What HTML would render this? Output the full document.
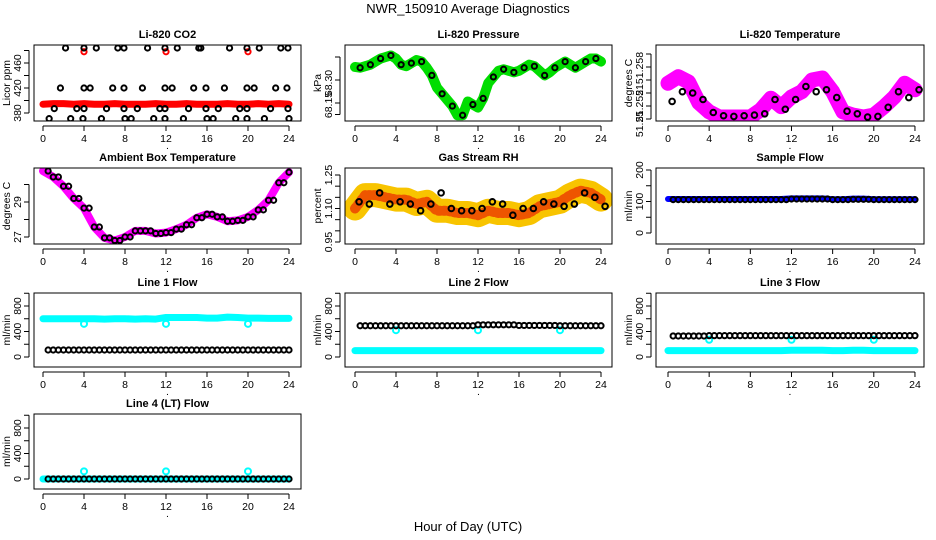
<!DOCTYPE html>
<html><head><meta charset="utf-8"><style>
html,body{margin:0;padding:0;background:#fff;}
svg{display:block;font-family:"Liberation Sans",Arial,sans-serif;}
.t{font-size:11px;font-weight:bold;}
.k{font-size:10.5px;}
</style></head><body>
<svg id="c" width="936" height="540" viewBox="0 0 936 540">
<text x="468" y="13" text-anchor="middle" font-size="13">NWR_150910  Average Diagnostics</text>
<text x="468" y="531" text-anchor="middle" font-size="13">Hour of Day (UTC)</text>
</svg>
<script>
// ---- data ----
const hours = [0,1,2,3,4,5,6,7,8,9,10,11,12,13,14,15,16,17,18,19,20,21,22,23,24];
const halfHours = [0,0.5,1,1.5,2,2.5,3,3.5,4,4.5,5,5.5,6,6.5,7,7.5,8,8.5,9,9.5,10,10.5,11,11.5,12,12.5,13,13.5,14,14.5,15,15.5,16,16.5,17,17.5,18,18.5,19,19.5,20,20.5,21,21.5,22,22.5,23,23.5,24];
const xTicks = [0,4,8,12,16,20,24];
// CO2
const co2Red = [394,395,395,394,395,394,394,395,394,394,394,395,394,394,395,394,394,394,395,394,394,395,394,395,394];
const co2RedOutHours = [4,12,20];
const co2RedOutVals = [478,478,478];
const co2BlackHours = [2.2,4.0,5.2,7.3,7.9,10.2,11.9,13.1,15.2,15.4,18.2,19.9,21.1,23.2,23.9,
 1.7,4.0,4.6,6.8,7.9,9.7,11.9,12.6,14.7,15.9,17.7,19.9,20.6,22.7,23.8,
 1.1,3.3,4.0,6.2,7.9,9.2,11.4,11.9,14.2,15.9,17.1,19.2,19.9,22.2,23.9,
 0.6,2.7,3.9,5.7,8.0,8.6,10.8,11.9,13.7,16.0,16.6,18.8,19.9,21.6,24.0];
const co2BlackVals = [484,484,484,484,484,484,484,484,484,484,484,484,484,484,484,
 420,420,420,420,420,420,420,420,420,420,420,420,420,420,420,
 387,387,387,387,387,387,387,387,387,387,387,387,387,387,387,
 371,371,371,371,371,371,371,371,371,371,371,371,371,371,371];
// Pressure (half-hourly)
const pressure = [68.385,68.38,68.39,68.40,68.42,68.44,68.45,68.46,68.44,68.40,68.39,68.41,68.43,68.42,68.38,68.33,68.25,68.21,68.17,68.13,68.07,68.07,68.16,68.14,68.12,68.18,68.28,68.32,68.36,68.37,68.36,68.35,68.36,68.38,68.40,68.39,68.36,68.33,68.35,68.38,68.40,68.42,68.40,68.38,68.40,68.42,68.44,68.44,68.42];
// Li-820 temperature
const liTemp = [51.2555,51.2565,51.2557,51.2525,51.2511,51.2503,51.2503,51.2503,51.2503,51.2514,51.2532,51.2519,51.2534,51.2542,51.2560,51.2563,51.2542,51.2511,51.2506,51.2503,51.2506,51.2519,51.2534,51.2555,51.2545];
const liTempBlack = [51.2527,51.2542,51.2540,51.2530,51.2510,51.2505,51.2504,51.2505,51.2506,51.2508,51.2530,51.2515,51.2530,51.2550,51.2542,51.2545,51.2533,51.2512,51.2508,51.2503,51.2504,51.2518,51.2542,51.2533,51.2545];
// Ambient box temperature (hourly)
const ambient = [30.77,30.43,29.9,29.2,28.65,27.57,26.95,26.8,27.0,27.35,27.35,27.2,27.25,27.45,27.7,28.1,28.3,28.15,27.9,27.95,28.15,28.55,29.1,30.1,30.7];
// Gas stream RH
const rh = [1.10,1.16,1.16,1.15,1.14,1.14,1.12,1.13,1.09,1.09,1.08,1.08,1.07,1.09,1.08,1.08,1.07,1.08,1.11,1.12,1.13,1.16,1.18,1.17,1.14];
const rhBlack = [1.13,1.12,1.17,1.12,1.13,1.12,1.09,1.12,1.17,1.10,1.09,1.09,1.10,1.13,1.12,1.07,1.10,1.10,1.13,1.12,1.11,1.12,1.17,1.15,1.11];
// Flows
const sampleBlue = [108,108,108,108,108,108,108,108,108,108,108,108,110,110,110,110,107,107,109,109,107,107,107,107,107];
const sampleBlack = [106,106,106,106,106,106,106,106,106,106,106,106,108,108,108,108,106,106,107,107,106,106,106,106,106];
const line1Cyan = [600,600,600,600,600,600,595,600,600,595,600,595,620,620,620,620,610,610,625,620,610,610,605,605,605];
const line1Black = [110,110,110,110,110,110,110,110,110,110,110,110,110,110,110,110,110,110,110,110,110,110,110,110,110];
const line2Cyan = [100,100,100,100,100,100,100,100,100,100,100,100,100,100,100,100,100,100,100,100,100,100,100,100,100];
const line2Black = [490,490,490,490,490,490,490,490,490,490,490,490,505,505,505,505,495,495,495,495,490,490,490,490,490];
const line3Cyan = [100,100,100,100,100,100,100,100,100,100,100,100,105,105,105,105,100,100,105,105,100,100,100,100,100];
const line3Black = [330,330,330,330,335,335,335,335,335,335,335,335,335,335,335,335,335,335,335,335,335,335,335,335,335];
const line4Cyan = [0,0,0,0,0,0,0,0,0,0,0,0,0,0,0,0,0,0,0,0,0,0,0,0,0];
const line4Black = [0,0,0,0,0,0,0,0,0,0,0,0,0,0,0,0,0,0,0,0,0,0,0,0,0];
const flowOutHours = [4,12,20];
const line1Out = [520,520,520];
const line2Out = [420,420,420];
const line3Out = [270,270,270];
const line4Out = [120,120,120];

// ---- drawing ----
const NS='http://www.w3.org/2000/svg';
const svg=document.getElementById('c');
function el(tag,attrs,parent){const e=document.createElementNS(NS,tag);for(const k in attrs)e.setAttribute(k,attrs[k]);(parent||svg).appendChild(e);return e;}
function makePanel(o){
  const g=el('g',{});
  
  
  const xs=h=>o.x0+h*o.ph;
  const ys=v=>o.yA+(v-o.vA)*(o.yB-o.yA)/(o.vB-o.vA);
  o.xs=xs;o.ys=ys;o.g=g;
  const t=el('text',{x:(o.bx0+o.bx1)/2,y:o.by0-7,'text-anchor':'middle',class:'t'},g);t.textContent=o.title;
  
  
  const xa=el('g',{},g);
  
  
  el('line',{x1:xs(0),x2:xs(24),y1:o.by1+5,y2:o.by1+5,stroke:'#000'},xa);
  xTicks.forEach(h=>{el('line',{x1:xs(h),x2:xs(h),y1:o.by1+5,y2:o.by1+10,stroke:'#000'},xa);
    const tt=el('text',{x:xs(h),y:o.by1+21,'text-anchor':'middle',class:'k'},xa);tt.textContent=h;});
  const dot=el('text',{x:(o.bx0+o.bx1)/2,y:o.by1+28,'text-anchor':'middle',class:'k'},xa);dot.textContent='.';
  const ya=el('g',{},g);
  
  
  const yv=o.ticks.map(ys);
  el('line',{x1:o.bx0-5,x2:o.bx0-5,y1:Math.min(...yv),y2:Math.max(...yv),stroke:'#000'},ya);
  o.ticks.forEach((v,i)=>{const y=ys(v);el('line',{x1:o.bx0-10,x2:o.bx0-5,y1:y,y2:y,stroke:'#000'},ya);
    if(o.labels[i]!==''){const ly=o.labelY?o.labelY[i]:y;const tt=el('text',{x:o.bx0-13,y:ly,'text-anchor':'middle',class:'k',transform:`rotate(-90 ${o.bx0-13} ${ly})`},ya);tt.textContent=o.labels[i];}});
  const yl=el('text',{x:o.bx0-24,y:(o.by0+o.by1)/2,'text-anchor':'middle',class:'k',transform:`rotate(-90 ${o.bx0-24} ${(o.by0+o.by1)/2})`},ya);yl.textContent=o.ylab;
  
  
  const cp=el('clipPath',{id:'cp-'+o.id},g);el('rect',{x:o.bx0,y:o.by0,width:o.bx1-o.bx0,height:o.by1-o.by0},cp);
  o.plot=el('g',{'clip-path':'url(#cp-'+o.id+')'},g);
  el('rect',{x:o.bx0,y:o.by0,width:o.bx1-o.bx0,height:o.by1-o.by0,fill:'none',stroke:'#000'},g);
  return o;
}
function band(p,hs,vals,color,w,name,dash){
  const pts=hs.map((h,i)=>p.xs(h)+','+p.ys(vals[i])).join(' ');
  const pl=el('polyline',{points:pts,fill:'none',stroke:color,'stroke-width':w,'stroke-linejoin':'round','stroke-linecap':'round'},p.plot);
  if(dash) pl.setAttribute('stroke-dasharray',dash);
  
  
}
function pts(p,hs,vals,color,r,name,sw){
  const g=el('g',{},p.plot);
  
  
  hs.forEach((h,i)=>{el('circle',{cx:p.xs(h),cy:p.ys(vals[i]),r:r,fill:'none',stroke:color,'stroke-width':sw||2},g);});
}
function halfPts(p,vals,color,name){
  const hs=[],vs=[];
  for(let i=1;i<vals.length;i++){hs.push(hours[i]-0.5);vs.push(vals[i-1]);hs.push(hours[i]);vs.push(vals[i]);}
  pts(p,hs,vs,color,2.6,name);
}
const C1={bx0:34,bx1:301,x0:43,ph:10.25}, C2={bx0:345,bx1:612,x0:355,ph:10.25}, C3={bx0:656,bx1:924,x0:668,ph:10.29};
const R1={by0:45,by1:121},R2={by0:168,by1:244},R3={by0:293,by1:367},R4={by0:414,by1:489};

let p=makePanel(Object.assign({id:'co2',title:'Li-820 CO2',ylab:'Licor ppm',vA:380,yA:113,vB:420,yB:88,ticks:[380,400,420,440,460,480],labels:['380','','420','','460','']},C1,R1));
band(p,hours,co2Red,'#ff0000',7,'co2-red-series');
pts(p,co2RedOutHours,co2RedOutVals,'#ff0000',2.6,'co2-red-outliers');
pts(p,co2BlackHours,co2BlackVals,'#000',2.6,'co2-black-points');

p=makePanel(Object.assign({id:'pressure',title:'Li-820 Pressure',ylab:'kPa',vA:68.30,yA:80,vB:68.15,yB:103,ticks:[68.075,68.15,68.30,68.45],labels:['','68.15','68.30',''],labelY:[0,105,83,0]},C2,R1));
band(p,halfHours,pressure,'#00dd00',10,'pressure-green-series');
pts(p,halfHours.filter((h,i)=>i%2==1),pressure.filter((v,i)=>i%2==1),'#000',2.6,'pressure-black-points');

p=makePanel(Object.assign({id:'li-temp',title:'Li-820 Temperature',ylab:'degrees C',vA:51.250,yA:119,vB:51.258,yB:67,ticks:[51.250,51.252,51.254,51.256,51.258,51.260],labels:['51.25','51.252','','51','51.258',''],labelY:[124,106,0,90,68,0]},C3,R1));
band(p,hours,liTemp,'#ff00ff',15,'li-temp-magenta-series');
pts(p,hours.map(h=>h+0.4),liTempBlack,'#000',2.8,'li-temp-black-points');

p=makePanel(Object.assign({id:'ambient',title:'Ambient Box Temperature',ylab:'degrees C',vA:27,yA:237,vB:29,yB:202,ticks:[27,28,29,30],labels:['27','','29','']},C1,R2));
band(p,hours,ambient,'#ff00ff',8,'ambient-magenta-series');
halfPts(p,ambient,'#000','ambient-black-points');

p=makePanel(Object.assign({id:'rh',title:'Gas Stream RH',ylab:'percent',vA:0.95,yA:242,vB:1.25,yB:175,ticks:[0.95,1.0,1.05,1.10,1.15,1.20,1.25],labels:['0.95','','','1.10','','','1.25']},C2,R2));
band(p,hours,rh,'#f8c400',24,'rh-orange-series');
band(p,hours,rh,'#ee5500',10,'rh-red-core','2 3');
pts(p,hours.map(h=>h+0.4),rhBlack,'#000',2.8,'rh-black-points');

p=makePanel(Object.assign({id:'sample-flow',title:'Sample Flow',ylab:'ml/min',vA:0,yA:233,vB:200,yB:170,ticks:[0,50,100,150,200],labels:['0','','100','','200']},C3,R2));
band(p,hours,sampleBlue,'#0000ff',6,'sample-flow-blue-series');
halfPts(p,sampleBlack,'#000','sample-flow-black-points');

const flowY=(R)=>({vA:0,yA:R.by1-10,vB:800,yB:R.by1-61,ticks:[0,200,400,600,800,1000],labels:['0','','400','','800','']});
function flowPanel(id,title,C,R,cyan,black,out){
  const q=makePanel(Object.assign({id:id,title:title,ylab:'ml/min'},flowY(R),C,R));
  band(q,hours,cyan,'#00ffff',7,id+'-cyan-series');
  pts(q,flowOutHours,out,'#00ffff',3,id+'-cyan-outliers',2);
  halfPts(q,black,'#000',id+'-black-points');
}
flowPanel('line1-flow','Line 1 Flow',C1,R3,line1Cyan,line1Black,line1Out);
flowPanel('line2-flow','Line 2 Flow',C2,R3,line2Cyan,line2Black,line2Out);
flowPanel('line3-flow','Line 3 Flow',C3,R3,line3Cyan,line3Black,line3Out);
flowPanel('line4-flow','Line 4 (LT) Flow',C1,R4,line4Cyan,line4Black,line4Out);
</script>
</body></html>
